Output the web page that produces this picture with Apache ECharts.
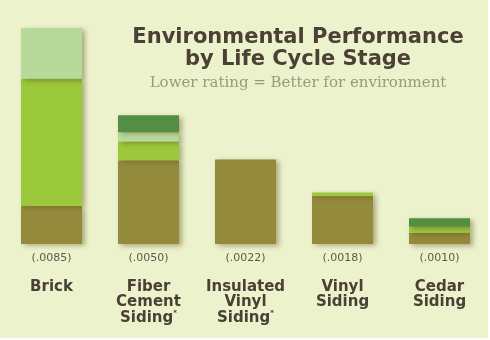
<!DOCTYPE html>
<html>
<head>
<meta charset="utf-8">
<script src="https://cdn.jsdelivr.net/npm/echarts@6/dist/echarts.min.js"></script>
<style>html,body{margin:0;padding:0;background:#fff;}#c{width:490px;height:340px;}</style>
</head>
<body>
<div id="c"></div>
<script>
// Categories and ratings
const categories = ['Brick', 'Fiber\nCement\nSiding*', 'Insulated\nVinyl\nSiding*', 'Vinyl\nSiding', 'Cedar\nSiding'];
const ratingLabels = ['(.0085)', '(.0050)', '(.0022)', '(.0018)', '(.0010)'];
// Stacked life-cycle stage values
const stageBrown      = [0.0015, 0.0033, 0.00333, 0.0019, 0.00044];
const stageBright     = [0.0050, 0.00073, 0, 0.00013, 0.00024];
const stageLight      = [0.0020, 0.00037, 0, 0, 0];
const stageDark       = [0, 0.00067, 0, 0, 0.00033];

const chart = echarts.init(document.getElementById('c'), null, {renderer: 'canvas'});
const shadow = {shadowColor: 'rgba(90,80,30,0.45)', shadowBlur: 5, shadowOffsetX: 3, shadowOffsetY: 2};
function ser(name, data, color) {
  return {
    name, type: 'bar', stack: 'a', data, barWidth: 61,
    itemStyle: Object.assign({color}, shadow),
    emphasis: {disabled: true}
  };
}
const catLabels = categories.map(function(c, i){
  const parts = c.split('\n');
  return '{r|' + ratingLabels[i] + '}\n' + parts.map(function(p){
    if (p.endsWith('*')) return '{b|' + p.slice(0, -1) + '}{s|*}';
    return '{b|' + p + '}';
  }).join('\n');
});
chart.setOption({
  backgroundColor: '#ECF2CC',
  animation: false,
  title: {
    text: 'Environmental Performance\nby Life Cycle Stage',
    subtext: 'Lower rating = Better for environment',
    left: 293, top: 22, textAlign: 'center',
    textStyle: {fontFamily: 'DejaVu Sans', fontWeight: 'bold', fontSize: 21, color: '#4B4035', lineHeight: 22},
    subtextStyle: {fontFamily: 'DejaVu Serif', fontSize: 15, color: '#9A997F'},
    itemGap: 5
  },
  grid: {left: 3, right: 2, top: 28, bottom: 96},
  xAxis: {
    type: 'category', data: catLabels,
    axisLine: {show: false}, axisTick: {show: false},
    axisLabel: {
      interval: 0, margin: 9,
      rich: {
        r: {fontFamily: 'DejaVu Sans', fontSize: 11, color: '#5C5A4A', lineHeight: 26, verticalAlign: 'top'},
        b: {fontFamily: 'DejaVu Sans', fontWeight: 'bold', fontSize: 15, color: '#4B4035', lineHeight: 15.5},
        s: {fontFamily: 'DejaVu Sans', fontWeight: 'bold', fontSize: 7, color: '#4B4035', lineHeight: 15.5, verticalAlign: 'top', padding: [0,0,6,0]}
      }
    }
  },
  yAxis: {type: 'value', min: 0, max: 0.0085, show: false, splitLine: {show: false}},
  series: [
    ser('Stage 1', stageBrown, '#938A3C'),
    ser('Stage 2', stageBright, '#9CC93B'),
    ser('Stage 3', stageLight, '#B7DA9A'),
    ser('Stage 4', stageDark, '#538E44')
  ],
  graphic: [
    {type: 'rect', right: 0, top: 0, shape: {width: 2, height: 340}, style: {fill: '#ffffff'}},
    {type: 'rect', left: 0, bottom: 0, shape: {width: 490, height: 2}, style: {fill: '#ffffff'}}
  ]
});
</script>
</body>
</html>
